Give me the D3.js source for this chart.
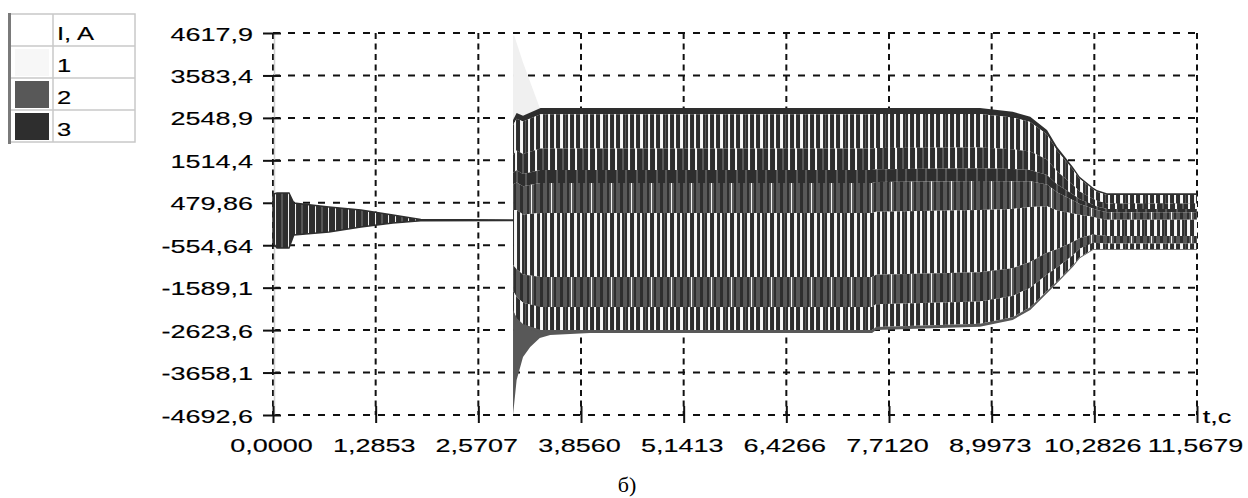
<!DOCTYPE html>
<html>
<head>
<meta charset="utf-8">
<script src="https://cdn.jsdelivr.net/npm/d3@7"></script>
<style>
  body { margin: 0; background: #fff; }
  svg { display: block; }
  text { font-family: "Liberation Sans", Arial, sans-serif; fill: #000; stroke: #000; stroke-width: 0.15px; }
</style>
</head>
<body>
<svg id="chart" width="1248" height="498"></svg>
<script>
// axis ticks, as printed on the picture
const xTicks = [0, 1.2853, 2.5707, 3.856, 5.1413, 6.4266, 7.712, 8.9973, 10.2826, 11.5679];
const xLabels = ["0,0000", "1,2853", "2,5707", "3,8560", "5,1413", "6,4266", "7,7120", "8,9973", "10,2826", "11,5679"];
const yTicks = [4617.9, 3583.4, 2548.9, 1514.4, 479.86, -554.64, -1589.1, -2623.6, -3658.1, -4692.6];
const yLabels = ["4617,9", "3583,4", "2548,9", "1514,4", "479,86", "-554,64", "-1589,1", "-2623,6", "-3658,1", "-4692,6"];

const legendTitle = "I, A";
const legendNames = ["1", "2", "3"];

// first run: decaying oscillation, envelope (A)
const startT = [0, 0.05, 0.2, 0.26, 0.7, 1.1, 1.5, 1.85, 3.005];
const startTop = [690, 718, 718, 475, 377, 304, 182, 72, 62];
const startBot = [-500, -622, -622, -305, -232, -110, -13, 42, 48];

// switching transient at t = 3 s
const spike1T = [3.005, 3.02, 3.13, 3.34, 3.6];
const spike1High = [4560, 4560, 3900, 2790, 2790];
const spike2T = [3.005, 3.05, 3.13, 3.22, 3.34, 3.47, 3.97];
const spike2Low = [-4692, -3840, -3280, -3035, -2816, -2743, -2694];

// outer envelope of the three phase currents after switching
const bandT = [3.005, 3.05, 3.13, 3.35, 3.97, 7.5, 7.55, 8.85, 9.26, 9.48, 9.69, 9.815, 10.015, 10.1, 10.265, 10.315, 10.44, 11.5679];
const bandTop = [2500, 2668, 2600, 2790, 2790, 2790, 2790, 2790, 2700, 2578, 2254, 1847, 1350, 1116, 850, 791, 710, 710];
const bandBot = [-2206, -2400, -2550, -2694, -2694, -2694, -2621, -2540, -2377, -2133, -1726, -1483, -1078, -873, -671, -671, -671, -671];

// levels (A) of the light / dark layers inside the steady band
const bandLevels = [2790, 2640, 1800, 1280, 960, 230, -1330, -2060, -2620, -2694];

const dark = "#2e2e2e", gray = "#585858", light = "#f7f7f7";
const bandStyle = ["dark", "url(#dw)", "url(#dws)", "url(#dg)", "url(#gd)", "url(#dww)", "url(#gd)", "url(#dw)", "gray"];

const svg = d3.select("#chart");
const x = d3.scaleLinear([0, 11.5679], [273, 1197]);
const y = d3.scaleLinear([-4692.6, 4617.9], [415, 33]);
const stretch = 1.42;

// patterns that give the striped look of the dense waveform
const defs = svg.append("defs");
function stripes(id, w, bg, bars) {
  const p = defs.append("pattern").attr("id", id)
    .attr("patternUnits", "userSpaceOnUse")
    .attr("x", x(3.005)).attr("width", w).attr("height", 20);
  p.append("rect").attr("width", w).attr("height", 20).attr("fill", bg);
  bars.forEach(b => p.append("rect").attr("x", b[0]).attr("width", b[1]).attr("height", 20).attr("fill", b[2]));
}
stripes("dw", 20, dark, [[1, 2, light], [7, 3, light], [12, 1, gray], [15, 2, light]]);
stripes("dws", 20, dark, [[2, 2, light], [9, 2, gray], [15, 2, light]]);
stripes("dww", 20, dark, [[1, 3, light], [7, 2, light], [11, 1, gray], [14, 3, light]]);
stripes("gd", 20, gray, [[1, 2, dark], [7, 3, dark], [14, 2, dark], [18, 1, light]]);
stripes("dg", 20, dark, [[3, 2, gray], [12, 2, gray]]);
stripes("st", 20, dark, [[2, 1, light], [8, 2, gray], [15, 1, light]]);

// grid
const grid = svg.append("g").attr("stroke", "#111").attr("stroke-width", 2);
grid.selectAll(".gx").data(xTicks).join("line")
  .attr("x1", d => x(d)).attr("x2", d => x(d))
  .attr("y1", y(4617.9)).attr("y2", y(-4692.6))
  .attr("stroke-dasharray", "6,4.5");
grid.selectAll(".gy").data(yTicks).join("line")
  .attr("x1", x(0)).attr("x2", x(11.5679))
  .attr("y1", d => y(d)).attr("y2", d => y(d))
  .attr("stroke-dasharray", "7,8");

svg.append("line").attr("x1", x(0) + 1.5).attr("x2", x(0) + 1.5)
  .attr("y1", y(4617.9)).attr("y2", y(-4692.6))
  .attr("stroke", "#cfcfcf").attr("stroke-width", 1.5);

function widen(sel, anchor) {
  sel.each(function () {
    const t = d3.select(this);
    const w = this.getComputedTextLength() * stretch;
    const x0 = +t.attr("x") || 0;
    t.attr("textLength", w).attr("lengthAdjust", "spacingAndGlyphs")
      .attr("text-anchor", "start")
      .attr("x", anchor === "end" ? x0 - w : x0 - w / 2);
  });
}

// y axis
const ya = svg.append("g").attr("transform", `translate(${x(0)},0)`)
  .call(d3.axisLeft(y).tickValues(yTicks).tickFormat((d, i) => yLabels[i]).tickSize(10).tickPadding(10));
ya.select(".domain").remove();
ya.selectAll(".tick line").attr("x1", 8).attr("x2", -10).attr("stroke", "#111").attr("stroke-width", 2);
ya.selectAll(".tick text").attr("font-size", 19).attr("font-family", null).attr("fill", null).attr("dy", 0).attr("y", 7).attr("x", -20);
widen(ya.selectAll(".tick text"), "end");

// x axis
const xa = svg.append("g").attr("transform", `translate(0,${y(-4692.6)})`)
  .call(d3.axisBottom(x).tickValues(xTicks).tickFormat((d, i) => xLabels[i]).tickSize(8));
xa.select(".domain").remove();
xa.selectAll(".tick line").attr("y1", -9).attr("y2", 8).attr("stroke", "#111").attr("stroke-width", 2);
xa.selectAll(".tick text").attr("font-size", 19).attr("font-family", null).attr("fill", null).attr("dy", 0).attr("y", 37).attr("x", -2);
widen(xa.selectAll(".tick text"), "middle");

const tc = svg.append("text").attr("x", 1205 + 12).attr("y", 423).attr("font-size", 19).text("t,c");
widen(tc, "middle");

// signal
const sig = svg.append("g");
const pts = (ts, a, b) => ts.map((t, i) => ({ t, hi: a[i], lo: b[i] }));
const area = d3.area().x(d => x(d.t)).y0(d => y(d.lo)).y1(d => y(d.hi));

sig.append("path").datum(pts(spike1T, spike1High, spike1T.map(() => 1000)))
  .attr("d", area).attr("fill", "#f0f0f0");
sig.append("path").datum(pts(spike2T, spike2T.map(() => -2000), spike2Low))
  .attr("d", area).attr("fill", gray);

const lvTop = bandLevels[0], lvBot = bandLevels[bandLevels.length - 1];
function level(i, v) {
  const f = (v - lvBot) / (lvTop - lvBot);
  return bandBot[i] + f * (bandTop[i] - bandBot[i]);
}
for (let k = 0; k < bandLevels.length - 1; k++) {
  const d = bandT.map((t, i) => ({ t, hi: level(i, bandLevels[k]), lo: level(i, bandLevels[k + 1]) }));
  const s = bandStyle[k];
  sig.append("path").datum(d).attr("d", area)
    .attr("fill", s === "dark" ? dark : s === "gray" ? gray : s);
}

sig.append("path").datum(pts(startT, startTop, startBot))
  .attr("d", area).attr("fill", "url(#st)")
  .attr("stroke", dark).attr("stroke-width", 1.5);

// legend
const lg = svg.append("g");
const rowsY = [14, 46, 78, 110, 142];
lg.append("rect").attr("x", 10).attr("y", rowsY[0]).attr("width", 125).attr("height", rowsY[4] - rowsY[0])
  .attr("fill", "#fff").attr("stroke", "#c8c8c8").attr("stroke-width", 1.5);
rowsY.slice(1, 4).forEach(v => lg.append("line").attr("x1", 10).attr("x2", 135).attr("y1", v).attr("y2", v)
  .attr("stroke", "#c8c8c8").attr("stroke-width", 1.5));
lg.append("line").attr("x1", 53).attr("x2", 53).attr("y1", rowsY[0]).attr("y2", rowsY[4])
  .attr("stroke", "#c8c8c8").attr("stroke-width", 1.5);
lg.append("line").attr("x1", 9.5).attr("x2", 9.5).attr("y1", rowsY[0] - 1).attr("y2", rowsY[4] + 2)
  .attr("stroke", "#7a7a7a").attr("stroke-width", 3);
const sw = [light, gray, dark];
legendNames.forEach((n, i) => {
  lg.append("rect").attr("x", 15).attr("y", rowsY[i + 1] + 3).attr("width", 34).attr("height", 27).attr("fill", sw[i]);
});
const lt = lg.selectAll(".lt").data([legendTitle, ...legendNames]).join("text")
  .attr("x", 57).attr("y", (d, i) => rowsY[i] + 26).attr("font-size", 18).text(d => d);
lt.each(function () {
  const w = this.getComputedTextLength() * stretch;
  d3.select(this).attr("textLength", w).attr("lengthAdjust", "spacingAndGlyphs");
});

svg.append("text").attr("x", 627).attr("y", 492).attr("text-anchor", "middle")
  .attr("font-size", 22).style("stroke-width", 0)
  .style("font-family", "'Liberation Serif', 'Times New Roman', serif").text("б)");
</script>
</body>
</html>
